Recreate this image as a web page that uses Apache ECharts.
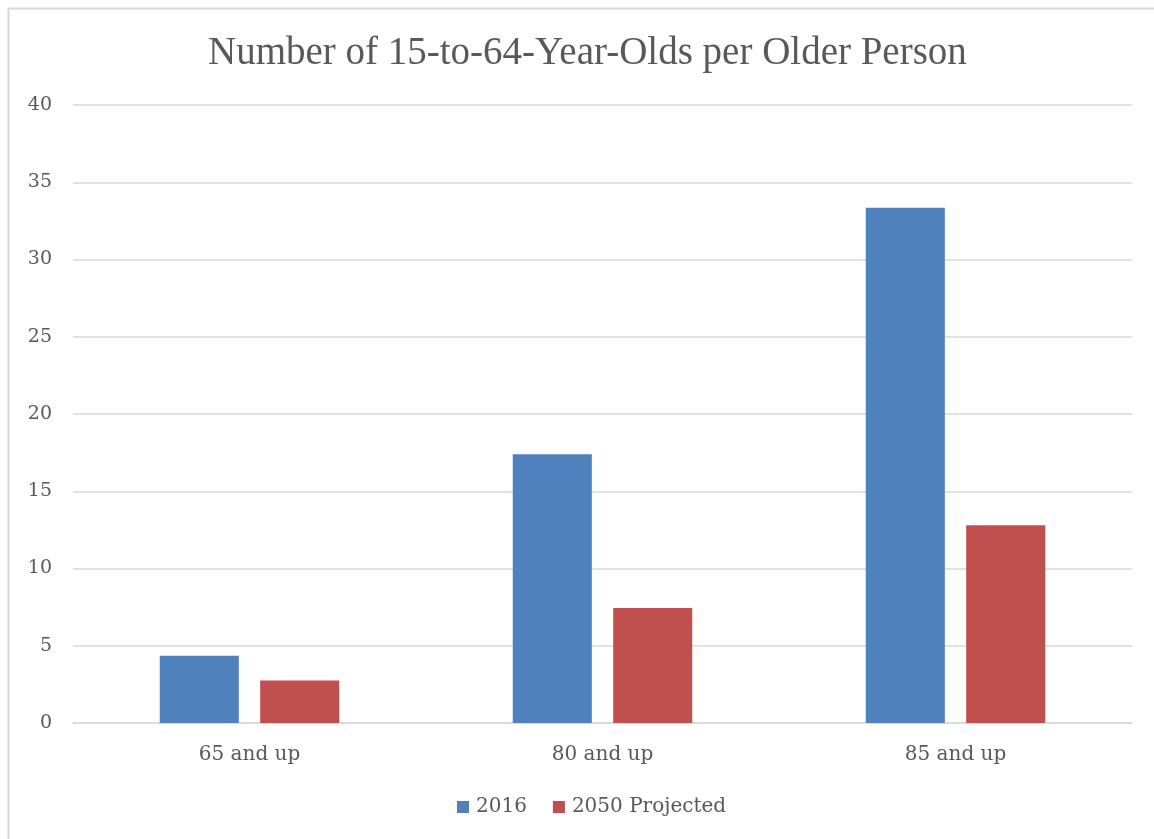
<!DOCTYPE html>
<html>
<head>
<meta charset="utf-8">
<script src="https://cdn.jsdelivr.net/npm/echarts@6/dist/echarts.min.js"></script>
<style>
  html, body { margin: 0; padding: 0; background: #fff; }
  #chart { width: 1154px; height: 839px; }
</style>
</head>
<body>
<div id="chart"></div>
<script>
const categories = ['65 and up', '80 and up', '85 and up'];
const values2016 = [4.35, 17.4, 33.35];
const values2050 = [2.75, 7.45, 12.8];
const yTicks = [0, 5, 10, 15, 20, 25, 30, 35, 40];

const titleFont = '"Liberation Serif", serif';
const font = '"DejaVu Serif", serif';
const chart = echarts.init(document.getElementById('chart'));

chart.setOption({
  animation: false,
  title: {
    text: 'Number of 15-to-64-Year-Olds per Older Person',
    left: 203,
    top: 29,
    textStyle: { fontFamily: titleFont, fontSize: 39, fontWeight: 'normal', color: '#595959' }
  },
  legend: {
    bottom: 17,
    left: 452,
    itemWidth: 12,
    itemHeight: 12,
    itemGap: 26,
    icon: 'rect',
    textStyle: { fontFamily: font, fontSize: 20, color: '#595959', padding: [0, 0, 0, 2] }
  },
  graphic: [{
    type: 'polyline',
    shape: { points: [[8.5, 900], [8.5, 8.5], [1200, 8.5]] },
    style: { stroke: '#d9d9d9', lineWidth: 2, fill: null }
  }],
  grid: { left: 73, right: 22, top: 105, bottom: 116 },
  xAxis: {
    type: 'category',
    data: categories,
    axisTick: { show: false },
    axisLine: { lineStyle: { color: '#d9d9d9', width: 1.5 } },
    axisLabel: { fontFamily: font, fontSize: 20, color: '#595959', margin: 22 }
  },
  yAxis: {
    type: 'value',
    min: yTicks[0],
    max: yTicks[yTicks.length - 1],
    interval: 5,
    axisLine: { show: false },
    axisTick: { show: false },
    splitLine: { lineStyle: { color: '#d9d9d9', width: 1.5 } },
    axisLabel: { fontFamily: font, fontSize: 19, color: '#595959', margin: 21 }
  },
  series: [
    {
      name: '2016',
      type: 'bar',
      data: values2016,
      barWidth: '22.4%',
      barGap: '27%',
      itemStyle: { color: '#4F81BD' }
    },
    {
      name: '2050 Projected',
      type: 'bar',
      data: values2050,
      barWidth: '22.4%',
      itemStyle: { color: '#C0504D' }
    }
  ]
});
</script>
</body>
</html>
